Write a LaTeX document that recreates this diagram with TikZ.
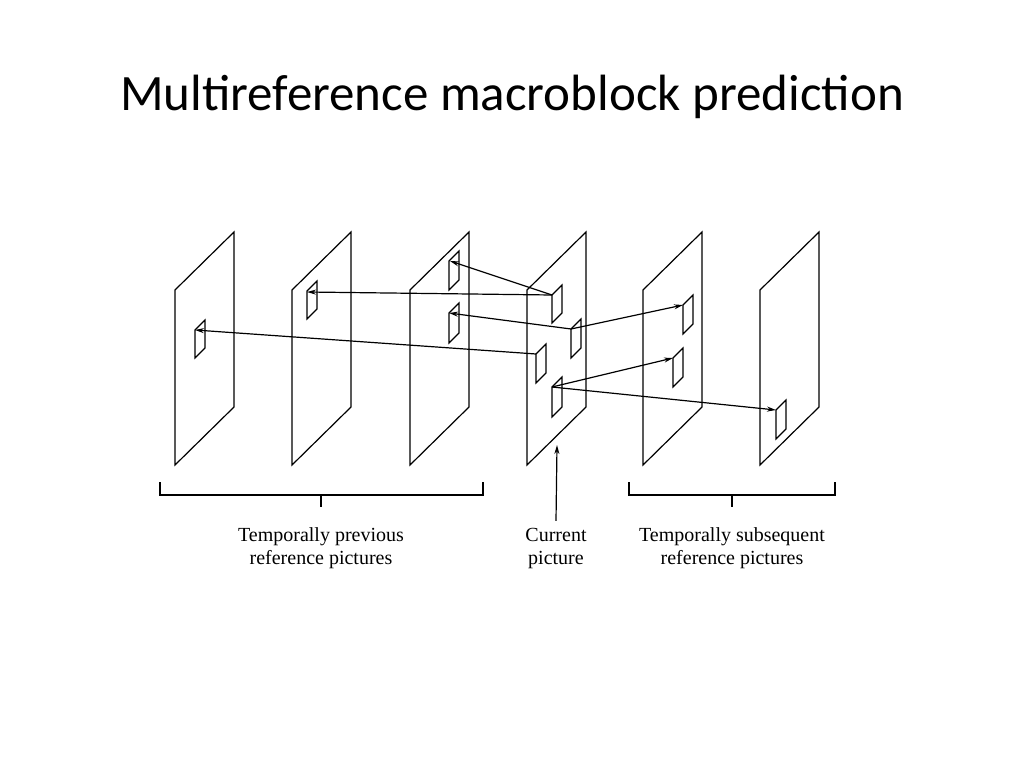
\documentclass[tikz,border=0pt]{standalone}
\usepackage{fontspec}
\setmainfont{Liberation Serif}
\newfontfamily\titlefont{Carlito}
\usetikzlibrary{arrows.meta}
\begin{document}
\begin{tikzpicture}[x=1pt,y=-1pt,line width=1.2pt,
  arr/.style={-{Stealth[length=9pt,width=5pt]}},
  lbl/.style={font=\fontsize{20}{23}\selectfont,align=center}]
\useasboundingbox (0,0) rectangle (1024,768);
\node[font=\titlefont\fontsize{51}{56}\selectfont] (title) at (512,97) {Multireference macroblock prediction};
% frames
\foreach \x in {175,292,410,527,643,760}
  \draw (\x,290) -- (\x+59,232) -- (\x+59,407) -- (\x,465) -- cycle;
% blocks: name, left x, top y, height
\newcommand{\blk}[4]{\draw (#2,#3) -- (#2+10,#3-10) -- (#2+10,#3+#4-10) -- (#2,#3+#4) -- cycle;
  \coordinate (#1) at (#2,#3); \coordinate (#1r) at (#2+8,#3-8);}
\blk{ca}{552}{295}{28}
\blk{cb}{571}{329}{29}
\blk{cc}{536}{354}{29}
\blk{cd}{552}{387}{30}
\blk{pa}{449}{261}{29}
\blk{pb}{449}{313}{30}
\blk{p2}{307}{291}{28}
\blk{p1}{195}{330}{28}
\blk{sa}{683}{305}{29}
\blk{sb}{673}{358}{29}
\blk{s6}{776}{410}{29}
\draw[arr] (ca) -- ([xshift=1pt]pa);
\draw[arr] (ca) -- ([yshift=-1pt]p2);
\draw[arr] (cb) -- (pb);
\draw[arr] (cb) -- (sa);
\draw[arr] (cc) -- (p1);
\draw[arr] (cd) -- (sb);
\draw[arr] (cd) -- (s6);
% brackets
\draw (160,482) -- (160,495) -- (483,495) -- (483,482);
\draw (321,495) -- (321,507);
\draw (629,482) -- (629,495) -- (835,495) -- (835,482);
\draw (732,495) -- (732,507);
\node[lbl] (l1) at (321,548) {Temporally previous\\reference pictures};
\node[lbl] (l2) at (556,548) {Current\\picture};
\node[lbl] (l3) at (732,548) {Temporally subsequent\\reference pictures};
\draw[arr] (l2.north) ++(0,-3) coordinate (ct) (ct) -- (557,445);
\end{tikzpicture}
\end{document}
